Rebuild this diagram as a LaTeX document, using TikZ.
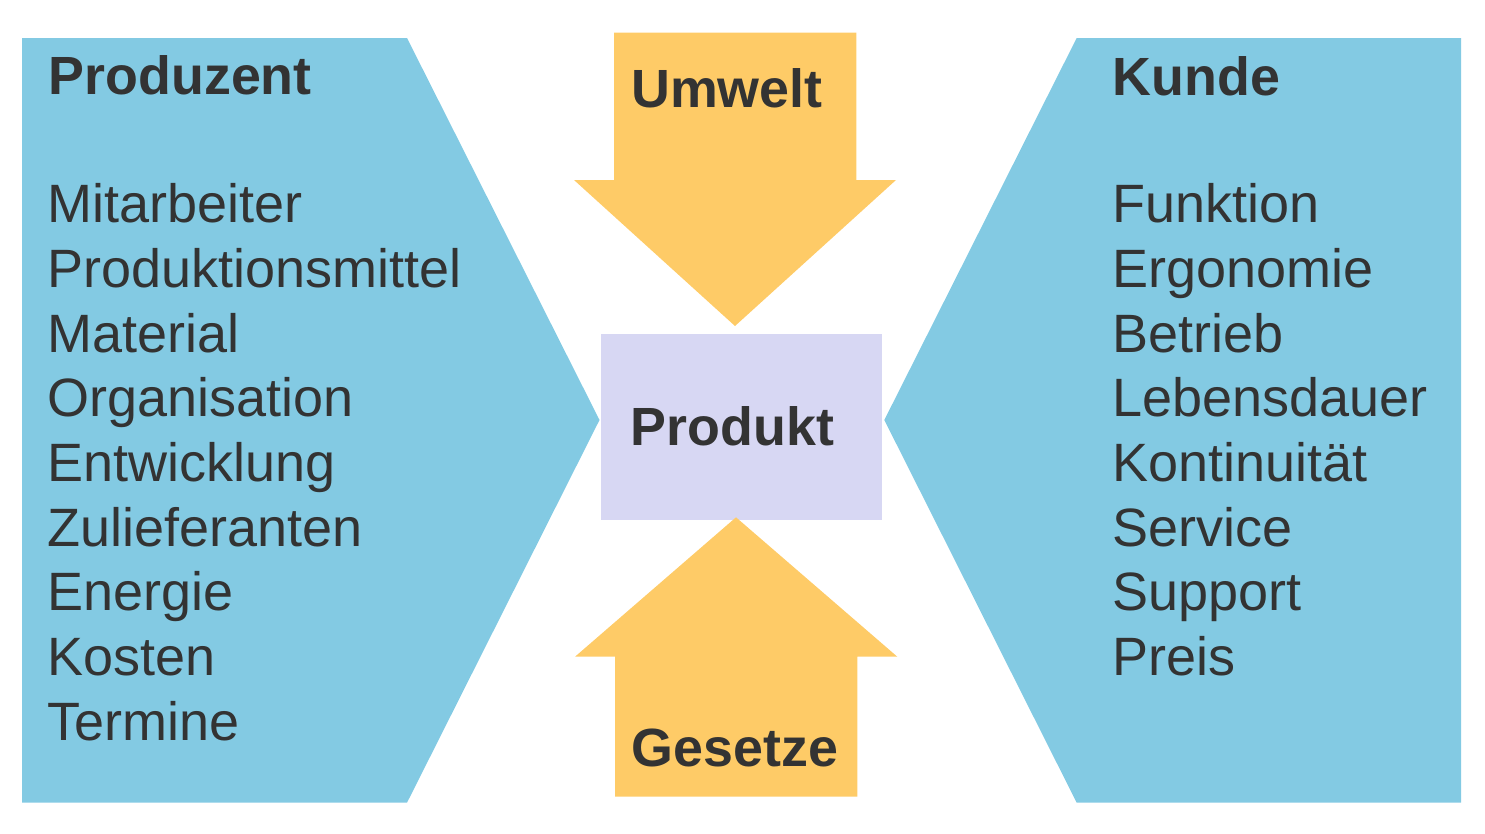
\documentclass[tikz,border=0pt]{standalone}
\usepackage{fontspec}
\setmainfont{Liberation Sans}
\definecolor{cblue}{HTML}{83CAE3}
\definecolor{corange}{HTML}{FECB67}
\definecolor{clav}{HTML}{D7D7F3}
\definecolor{ctext}{HTML}{333333}
\tikzset{
  itemtext/.style={anchor=base west, inner sep=0pt, text=ctext, font=\fontsize{54}{60}\selectfont},
  headtext/.style={anchor=base west, inner sep=0pt, text=ctext, font=\fontsize{53.8}{60}\selectfont\bfseries},
}
\begin{document}
\begin{tikzpicture}[x=1pt,y=-1pt]
\useasboundingbox (0,0) rectangle (1485,833);
% side shapes
\fill[cblue] (22,38) -- (407,38) -- (599.5,420) -- (407,802.7) -- (22,802.7) -- cycle;
\fill[cblue] (1461,38) -- (1076.7,38) -- (884.3,420) -- (1076.7,802.7) -- (1461,802.7) -- cycle;
% product box
\fill[clav] (601,334) rectangle (882,520);
% top arrow
\fill[corange] (614,32.7) -- (856.3,32.7) -- (856.3,180) -- (896,180) -- (735,326) -- (574,180) -- (614,180) -- cycle;
% bottom arrow
\fill[corange] (615,796.7) -- (857.3,796.7) -- (857.3,656.7) -- (897.3,656.7) -- (736,517.3) -- (575,656.7) -- (615,656.7) -- cycle;
% headings
\node[headtext] (hprod) at (48.5,94) {Produzent};
\node[headtext] (hkunde) at (1112.5,95) {Kunde};
\node[headtext] (humwelt) at (631,107.3) {Umwelt};
\node[headtext] (hprodukt) at (630.5,445) {Produkt};
\node[headtext] (hgesetze) at (631.5,766.7) {Gesetze};
% left list
\foreach \t [count=\i from 0] in {Mitarbeiter,Produktionsmittel,Material,Organisation,Entwicklung,Zulieferanten,Energie,Kosten,Termine}
  \node[itemtext] (l\i) at (47,222.7+\i*64.7) {\t};
% right list
\foreach \t [count=\i from 0] in {Funktion,Ergonomie,Betrieb,Lebensdauer,Kontinuität,Service,Support,Preis}
  \node[itemtext] (r\i) at (1112,222.7+\i*64.7) {\t};
\end{tikzpicture}
\end{document}
